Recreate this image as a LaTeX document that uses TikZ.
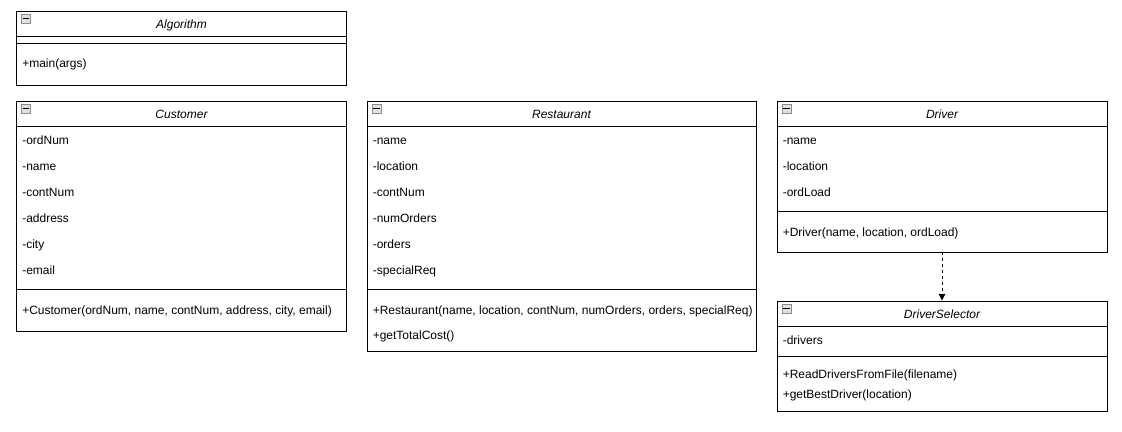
\documentclass[tikz,border=0pt]{standalone}
\usepackage{fontspec}
\setmainfont{Liberation Sans}
\usetikzlibrary{arrows.meta,calc}
\begin{document}
\begin{tikzpicture}[x=0.75pt,y=-0.75pt,
  classbox/.style={draw=black, line width=0.75pt, inner sep=0pt, anchor=north west},
  ctitle/.style={font=\itshape\fontsize{9}{11}\selectfont, inner sep=0pt, anchor=base},
  member/.style={font=\fontsize{9}{11}\selectfont, anchor=base west, inner sep=0pt},
  icon/.style={draw=black!45, fill=black!12, line width=0.6pt, minimum size=6.75pt, inner sep=0pt, anchor=north west},
  sepline/.style={draw=black, line width=0.75pt},
  dep/.style={draw=black, line width=0.75pt, dash pattern=on 2.2pt off 2.2pt, -{Triangle[length=5pt,width=5pt]}}
]
\useasboundingbox (0,0) rectangle (1122,432);
\fill[white] (0,0) rectangle (1122,432);

% ---------- Algorithm ----------
\node[classbox, minimum width=247.5pt, minimum height=55.5pt] (alg) at (16,10.5) {};
\draw[sepline] ($(alg.north west)+(0,26)$) -- ($(alg.north east)+(0,26)$);
\draw[sepline] ($(alg.north west)+(0,32.5)$) -- ($(alg.north east)+(0,32.5)$);
\node[icon] (algicon) at ($(alg.north west)+(5,3.5)$) {};
\draw[line width=0.8pt] ($(algicon.west)+(1.5,0)$) -- ($(algicon.east)+(-1.5,0)$);
\node[ctitle] (algt) at ($(alg.north)+(0,17.5)$) {Algorithm};
\node[member] (algm1) at (22,67.5) {+main(args)};

% ---------- Customer ----------
\node[classbox, minimum width=247.5pt, minimum height=172.5pt] (cust) at (16,100.5) {};
\draw[sepline] ($(cust.north west)+(0,26)$) -- ($(cust.north east)+(0,26)$);
\draw[sepline] ($(cust.north west)+(0,189)$) -- ($(cust.north east)+(0,189)$);
\node[icon] (custicon) at ($(cust.north west)+(5,3.5)$) {};
\draw[line width=0.8pt] ($(custicon.west)+(1.5,0)$) -- ($(custicon.east)+(-1.5,0)$);
\node[ctitle] (custt) at ($(cust.north)+(0,17.5)$) {Customer};
\node[member] (custa1) at (22,144) {-ordNum};
\node[member] (custa2) at (22,170) {-name};
\node[member] (custa3) at (22,196) {-contNum};
\node[member] (custa4) at (22,222) {-address};
\node[member] (custa5) at (22,248) {-city};
\node[member] (custa6) at (22,274) {-email};
\node[member] (custm1) at (22,314) {+Customer(ordNum, name, contNum, address, city, email)};

% ---------- Restaurant ----------
\node[classbox, minimum width=291.75pt, minimum height=187.5pt] (rest) at (366.5,100.5) {};
\draw[sepline] ($(rest.north west)+(0,26)$) -- ($(rest.north east)+(0,26)$);
\draw[sepline] ($(rest.north west)+(0,189)$) -- ($(rest.north east)+(0,189)$);
\node[icon] (resticon) at ($(rest.north west)+(5,3.5)$) {};
\draw[line width=0.8pt] ($(resticon.west)+(1.5,0)$) -- ($(resticon.east)+(-1.5,0)$);
\node[ctitle] (restt) at ($(rest.north)+(0,17.5)$) {Restaurant};
\node[member] (resta1) at (372.5,144) {-name};
\node[member] (resta2) at (372.5,170) {-location};
\node[member] (resta3) at (372.5,196) {-contNum};
\node[member] (resta4) at (372.5,222) {-numOrders};
\node[member] (resta5) at (372.5,248) {-orders};
\node[member] (resta6) at (372.5,274) {-specialReq};
\node[member] (restm1) at (372.5,314) {+Restaurant(name, location, contNum, numOrders, orders, specialReq)};
\node[member] (restm2) at (372.5,339) {+getTotalCost()};

% ---------- Driver ----------
\node[classbox, minimum width=247.5pt, minimum height=113.25pt] (drv) at (776.5,100.5) {};
\draw[sepline] ($(drv.north west)+(0,26)$) -- ($(drv.north east)+(0,26)$);
\draw[sepline] ($(drv.north west)+(0,111)$) -- ($(drv.north east)+(0,111)$);
\node[icon] (drvicon) at ($(drv.north west)+(5,3.5)$) {};
\draw[line width=0.8pt] ($(drvicon.west)+(1.5,0)$) -- ($(drvicon.east)+(-1.5,0)$);
\node[ctitle] (drvt) at ($(drv.north)+(0,17.5)$) {Driver};
\node[member] (drva1) at (782.5,144) {-name};
\node[member] (drva2) at (782.5,170) {-location};
\node[member] (drva3) at (782.5,196) {-ordLoad};
\node[member] (drvm1) at (782.5,236) {+Driver(name, location, ordLoad)};

% ---------- DriverSelector ----------
\node[classbox, minimum width=247.5pt, minimum height=82.5pt] (dsel) at (776.5,300.5) {};
\draw[sepline] ($(dsel.north west)+(0,26)$) -- ($(dsel.north east)+(0,26)$);
\draw[sepline] ($(dsel.north west)+(0,56)$) -- ($(dsel.north east)+(0,56)$);
\node[icon] (dselicon) at ($(dsel.north west)+(5,3.5)$) {};
\draw[line width=0.8pt] ($(dselicon.west)+(1.5,0)$) -- ($(dselicon.east)+(-1.5,0)$);
\node[ctitle] (dselt) at ($(dsel.north)+(0,17.5)$) {DriverSelector};
\node[member] (dsela1) at (782.5,344) {-drivers};
\node[member] (dselm1) at (782.5,378.5) {+ReadDriversFromFile(filename)};
\node[member] (dselm2) at (782.5,398) {+getBestDriver(location)};

% ---------- dependency ----------
\draw[dep] (drv.south) -- (dsel.north);
\end{tikzpicture}
\end{document}
